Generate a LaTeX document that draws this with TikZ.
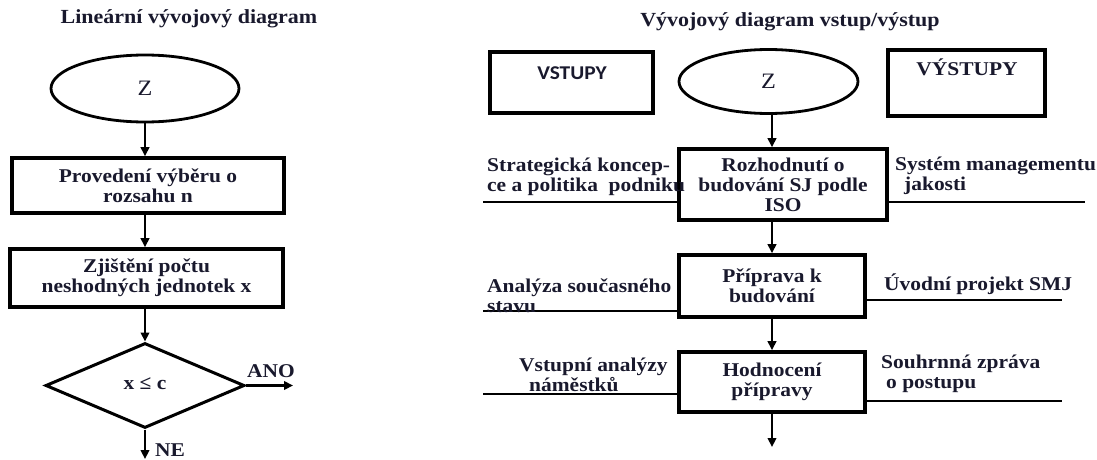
\documentclass[tikz,border=0pt]{standalone}
\usepackage{fontspec}
\setmainfont{Liberation Serif}[FakeStretch=1.1]
\newfontfamily\labelsans{Carlito}[FakeStretch=1.1]
\usetikzlibrary{shapes.geometric,arrows.meta}

\definecolor{ink}{RGB}{25,25,45}

\tikzset{
  txt/.style={text=ink, inner sep=0pt, font=\fontsize{19.5}{20}\selectfont\bfseries},
  ttl/.style={text=ink, inner sep=0pt, font=\fontsize{20}{22}\selectfont\bfseries},
  stepbox/.style={draw=black, line width=3.6pt, rectangle, inner sep=0pt, align=center,
    text=ink, font=\fontsize{19.5}{20}\selectfont\bfseries},
  iobox/.style={draw=black, line width=3.6pt, rectangle, inner sep=0pt},
  term/.style={draw=black, line width=2.8pt, ellipse, inner sep=0pt,
    text=ink, font=\fontsize{22}{24}\selectfont},
  decision/.style={draw=black, line width=3pt, diamond, inner sep=0pt,
    text=ink, font=\fontsize{19.5}{20}\selectfont\bfseries},
  conn/.style={draw=black, line width=2.8pt},
  arr/.style={conn, -{Triangle[length=9pt,width=8.5pt]}},
}

\begin{document}
\begin{tikzpicture}[x=1pt,y=-1pt]
\useasboundingbox (0,0) rectangle (1097,460);

% ---------- linear flowchart ----------
\node[ttl] (tL) at (189,19) {Lineární vývojový diagram};
\node[term, minimum width=188pt, minimum height=67pt] (zL) at (145,88.5) {Z};
\node[stepbox, minimum width=272pt, minimum height=55pt] (b1) at (148,185.5)
  {Provedení výběru o\\rozsahu n};
\node[stepbox, minimum width=273pt, minimum height=58pt] (b2) at (146.5,278)
  {Zjištění počtu\\neshodných jednotek x};
\node[decision, minimum width=199pt, minimum height=85pt] (d1) at (145,385.5)
  {\raisebox{4pt}{x ≤ c}};

\draw[arr] (zL.south) -- (zL.south |- b1.north);
\draw[arr] (b1.south -| zL.south) -- (b2.north -| zL.south);
\draw[arr] (b2.south -| zL.south) -- (d1.north);

\coordinate (ano) at (293,385.5);
\draw[arr] (d1.east) -- (ano);
\node[txt] (lano) at (271,371) {ANO};

\coordinate (ne) at (145,459);
\draw[arr] (d1.south) -- (ne);
\node[txt, anchor=west] (lne) at (155,450) {NE};

% ---------- input/output flowchart ----------
\node[ttl] (tR) at (790,22) {Vývojový diagram vstup/výstup};

\node[iobox, minimum width=163pt, minimum height=61pt] (vin) at (571.5,82.5) {};
\node[text=ink, inner sep=0pt, font=\labelsans\fontsize{19.5}{20}\selectfont\bfseries]
  (lvin) at (572,73) {VSTUPY};
\node[iobox, minimum width=157pt, minimum height=66pt] (vout) at (966.5,83) {};
\node[txt] (lvout) at (967,67) {VÝSTUPY};

\node[term, minimum width=179pt, minimum height=64pt] (zR) at (768.5,81.5) {Z};

\node[stepbox, minimum width=208pt, minimum height=71pt] (r1) at (783,184.5)
  {Rozhodnutí o\\budování SJ podle\\ISO};
\node[stepbox, minimum width=186pt, minimum height=62pt] (r2) at (772,286)
  {Příprava k\\budování};
\node[stepbox, minimum width=186pt, minimum height=60pt] (r3) at (772,382)
  {Hodnocení\\přípravy};

\coordinate (ax) at (772,0);
\coordinate (fin) at (772,447);
\draw[arr] (ax |- zR.south) -- (ax |- r1.north);
\draw[arr] (ax |- r1.south) -- (r2.north);
\draw[arr] (r2.south) -- (r3.north);
\draw[arr] (r3.south) -- (fin);

% inputs on the left
\coordinate (in1) at (483,202);
\coordinate (in2) at (483,311);
\coordinate (in3) at (483,394);
\draw[conn] (in1) -- (in1 -| r1.west);
\draw[conn] (in2) -- (in2 -| r2.west);
\draw[conn] (in3) -- (in3 -| r3.west);

% outputs on the right
\coordinate (out1) at (1085,202);
\coordinate (out2) at (1062,300);
\coordinate (out3) at (1062,401);
\draw[conn] (out1 -| r1.east) -- (out1);
\draw[conn] (out2 -| r2.east) -- (out2);
\draw[conn] (out3 -| r3.east) -- (out3);

\node[txt, anchor=west, align=left] (lin1) at (487,177)
  {Strategická koncep-\\ce a politika\ \ podniku};
\node[txt, anchor=west, align=left] (lin2) at (487,295.5)
  {Analýza současného\\stavu};
\node[txt, anchor=west, align=left] (lin3) at (519,374.5)
  {Vstupní analýzy\\\hspace*{10pt}náměstků};

\node[txt, anchor=west, align=left] (lout1) at (895,176)
  {Systém managementu\\\hspace*{9pt}jakosti};
\node[txt, anchor=west] (lout2) at (884,284) {Úvodní projekt SMJ};
\node[txt, anchor=west, align=left] (lout3) at (881,374)
  {Souhrnná zpráva\\\hspace*{5pt}o postupu};
\end{tikzpicture}
\end{document}
